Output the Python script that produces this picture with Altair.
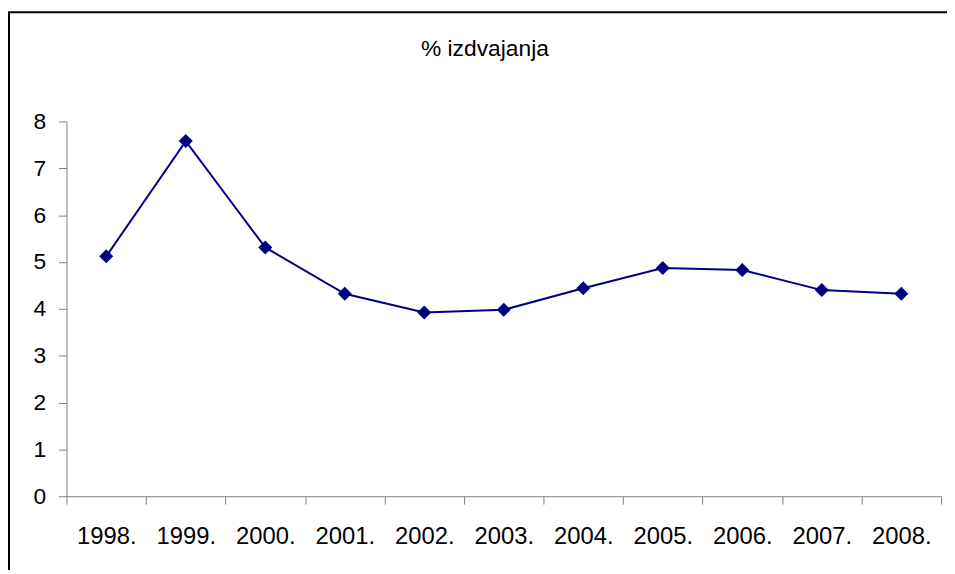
import altair as alt
import pandas as pd

years = ["1998.", "1999.", "2000.", "2001.", "2002.", "2003.", "2004.", "2005.", "2006.", "2007.", "2008."]
values = [5.12, 7.58, 5.31, 4.32, 3.92, 3.98, 4.44, 4.87, 4.83, 4.40, 4.32]
title_text = ["% izdvajanja"]

df = pd.DataFrame({"year": years, "value": values})
tdf = pd.DataFrame({"t": title_text})

W, H = 882, 378
FONT = "Liberation Sans"

x_enc = alt.X(
    "year:O",
    sort=years,
    bandPosition=0.5,
    scale=alt.Scale(type="band", paddingInner=0, paddingOuter=0),
    axis=alt.Axis(
        title=None, labelAngle=0, tickBand="extent", grid=False,
        domainColor="#808080", tickColor="#808080", tickSize=8,
        labelFont=FONT, labelFontSize=24, labelColor="black", labelPadding=21,
    ),
)
y_enc = alt.Y(
    "value:Q",
    scale=alt.Scale(domain=[0, 8], nice=False, zero=True),
    axis=alt.Axis(
        title=None, values=list(range(0, 9)), grid=False,
        domainColor="#808080", tickColor="#808080", tickSize=8,
        labelFont=FONT, labelFontSize=23, labelColor="black", labelPadding=13,
    ),
)

line = alt.Chart(df).mark_line(color="#000080", strokeWidth=2).encode(x=x_enc, y=y_enc)
pts = alt.Chart(df).mark_point(shape="diamond", filled=True, color="#000080", size=200, opacity=1).encode(x=x_enc, y=y_enc)

frame = alt.Chart(tdf).mark_rect(fill=None, stroke="black", strokeWidth=2).encode(
    x=alt.value(-58), x2=alt.value(W + 100), y=alt.value(-110), y2=alt.value(H + 200)
)

title = alt.Chart(tdf).mark_text(
    font=FONT, fontSize=23, color="black", align="center", baseline="alphabetic"
).encode(x=alt.value(422), y=alt.value(-66), text="t:N")

chart = alt.layer(frame, line, pts, title).properties(
    width=W, height=H,
    autosize=alt.AutoSizeParams(type="none"),
    padding={"left": 59, "top": 112, "right": 6, "bottom": 72},
).configure_view(stroke=None)

chart.save("out.html", embed_options={"renderer": "svg", "actions": False})
